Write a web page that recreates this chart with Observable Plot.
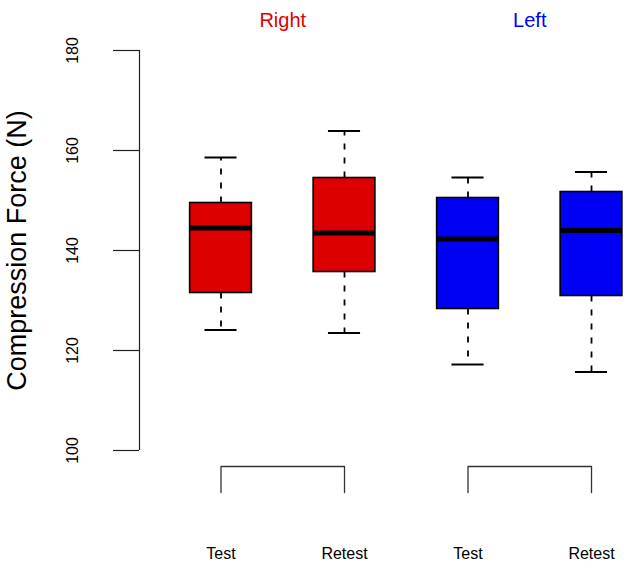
<!DOCTYPE html>
<html><head><meta charset="utf-8">
<script src="https://cdn.jsdelivr.net/npm/d3@7"></script>
<script src="https://cdn.jsdelivr.net/npm/@observablehq/plot@0.6"></script>
<style>body{margin:0;background:#fff}</style>
</head><body><div id="chart"></div>
<script>
// ---- data ----
const conditions = ["Test", "Retest", "Test", "Retest"];
const sides = ["Right", "Right", "Left", "Left"];
const whiskerLow = [124.1, 123.5, 117.2, 115.7];
const q1 = [131.5, 135.7, 128.3, 130.9];
const median = [144.5, 143.5, 142.3, 144.0];
const q3 = [149.5, 154.5, 150.5, 151.7];
const whiskerHigh = [158.6, 163.9, 154.6, 155.7];
const sideLabels = ["Right", "Left"];
const sideColors = ["#DD0000", "#0000F5"];
const yTicks = [100, 120, 140, 160, 180];
const yTitle = "Compression Force (N)";

// ---- derived tables ----
const boxes = conditions.map((c, i) => ({
  pos: i + 1, cond: c, side: sides[i],
  lo: whiskerLow[i], q1: q1[i], med: median[i], q3: q3[i], hi: whiskerHigh[i],
  color: sideColors[sideLabels.indexOf(sides[i])]
}));
const groups = sideLabels.map((s, j) => ({
  side: s, left: 2 * j + 1, right: 2 * j + 2, center: 2 * j + 1.5, color: sideColors[j]
}));
const bTop = 96.8, bBot = 91.6;
const bracketPts = groups.flatMap(g => [
  {side: g.side, x: g.left, y: bBot}, {side: g.side, x: g.left, y: bTop},
  {side: g.side, x: g.right, y: bTop}, {side: g.side, x: g.right, y: bBot}
]);
const halfBox = 0.25, halfCap = 0.13;
const yMin = yTicks[0], yMax = yTicks[yTicks.length - 1];
const xLo = 0.34, xHi = 4.66, unit = 123.5, left = 139;

const chart = Plot.plot({
  width: 630, height: 569,
  marginLeft: left, marginTop: 50, marginRight: 0, marginBottom: 119,
  x: {type: "linear", domain: [xLo, xHi], range: [left, left + (xHi - xLo) * unit], axis: null},
  y: {domain: [yMin, yMax], range: [450, 50]},
  color: {type: "identity"},
  style: {fontFamily: "'Liberation Sans', Arial, Helvetica, sans-serif", background: "white", overflow: "visible"},
  marks: [
    Plot.axisY(yTicks, {tickSize: 26, tickFormat: () => "", label: null, stroke: "#222", strokeWidth: 1.2}),
    Plot.ruleX([xLo], {y1: yMin, y2: yMax, stroke: "#222", strokeWidth: 1.2}),
    Plot.text(yTicks, {y: d => d, text: d => String(d), frameAnchor: "left", textAnchor: "middle", dx: -62, rotate: -90, lineAnchor: "bottom", fontSize: 16, fill: "black"}),
    Plot.text([yTitle], {y: () => (yMin + yMax) / 2, text: d => d, frameAnchor: "left", textAnchor: "middle", dx: -114, rotate: -90, lineAnchor: "bottom", fontSize: 27, fill: "black"}),
    // whiskers
    Plot.ruleX(boxes, {x: "pos", y1: "q3", y2: "hi", stroke: "black", strokeWidth: 1.8, strokeDasharray: "6,8"}),
    Plot.ruleX(boxes, {x: "pos", y1: "q1", y2: "lo", stroke: "black", strokeWidth: 1.8, strokeDasharray: "6,8"}),
    Plot.ruleY(boxes, {y: "hi", x1: d => d.pos - halfCap, x2: d => d.pos + halfCap, stroke: "black", strokeWidth: 2}),
    Plot.ruleY(boxes, {y: "lo", x1: d => d.pos - halfCap, x2: d => d.pos + halfCap, stroke: "black", strokeWidth: 2}),
    // boxes
    Plot.rect(boxes, {x1: d => d.pos - halfBox, x2: d => d.pos + halfBox, y1: "q1", y2: "q3", fill: "color", stroke: "black", strokeWidth: 1.6}),
    Plot.ruleY(boxes, {y: "med", x1: d => d.pos - halfBox, x2: d => d.pos + halfBox, stroke: "black", strokeWidth: 5}),
    // brackets
    Plot.line(bracketPts, {x: "x", y: "y", z: "side", stroke: "#333", strokeWidth: 1.3}),
    // labels
    Plot.text(groups, {x: "center", y: () => 184.8, text: "side", fill: "color", fontSize: 20, lineAnchor: "bottom"}),
    Plot.text(boxes, {x: "pos", y: () => 78.3, text: "cond", fill: "black", fontSize: 16, lineAnchor: "bottom"})
  ]
});
document.getElementById("chart").appendChild(chart);
</script>
</body></html>
